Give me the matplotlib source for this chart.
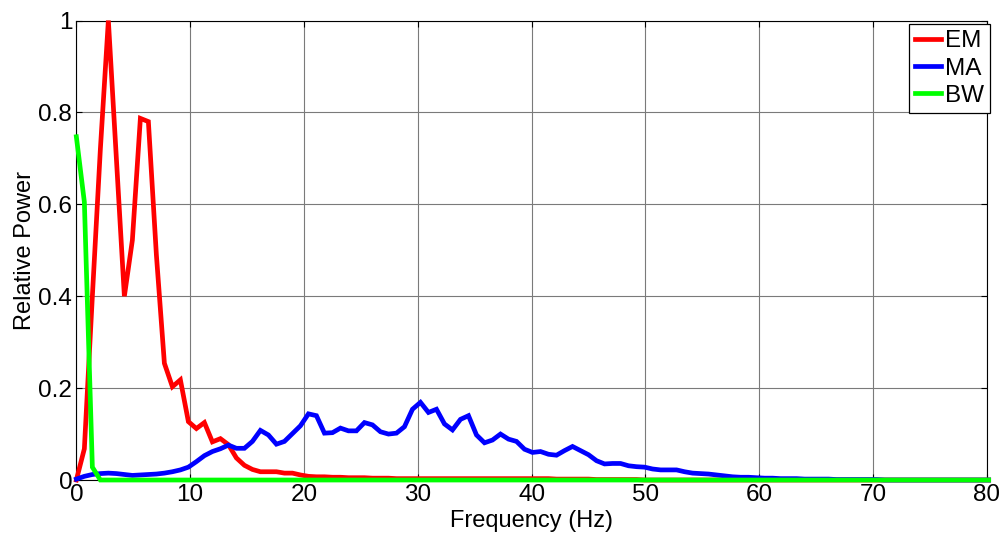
import matplotlib
matplotlib.use("Agg")
import matplotlib.pyplot as plt
import numpy as np

# frequency bins: 360 Hz sampling, 512-point FFT
fs = 360.0
nfft = 512

# relative power spectra of the three noise records
em = [0.0, 0.068, 0.40, 0.72, 1.0, 0.70, 0.40, 0.522, 0.787, 0.78,
      0.49, 0.254, 0.203, 0.218, 0.127, 0.112, 0.125, 0.083, 0.09, 0.077,
      0.048, 0.032, 0.023, 0.018, 0.018, 0.018, 0.015, 0.015, 0.011, 0.008,
      0.007, 0.007, 0.006, 0.006, 0.005, 0.005, 0.005, 0.004, 0.004, 0.004,
      0.003, 0.003, 0.003, 0.003, 0.003, 0.003, 0.003, 0.003, 0.003, 0.003,
      0.003, 0.003, 0.003, 0.003, 0.003, 0.003, 0.003, 0.003, 0.003, 0.003,
      0.002, 0.002, 0.002, 0.002, 0.002, 0.001, 0.001, 0.001, 0.001, 0.001,
      0.001] + [0.0] * 44

ma = [0.002, 0.008, 0.012, 0.014, 0.015, 0.014, 0.012, 0.010, 0.011, 0.012,
      0.013, 0.015, 0.018, 0.022, 0.028, 0.040, 0.053, 0.062, 0.068, 0.076,
      0.069, 0.069, 0.084, 0.108, 0.098, 0.078, 0.084, 0.101, 0.118, 0.144,
      0.140, 0.102, 0.103, 0.113, 0.107, 0.107, 0.125, 0.120, 0.105, 0.100,
      0.102, 0.116, 0.154, 0.169, 0.147, 0.154, 0.122, 0.109, 0.132, 0.140,
      0.098, 0.081, 0.087, 0.100, 0.089, 0.084, 0.067, 0.060, 0.062, 0.056,
      0.054, 0.064, 0.073, 0.064, 0.055, 0.042, 0.035, 0.036, 0.036, 0.031,
      0.029, 0.028, 0.024, 0.022, 0.022, 0.022, 0.018, 0.015, 0.014, 0.013,
      0.011, 0.009, 0.007, 0.006, 0.006, 0.005, 0.004, 0.004, 0.003, 0.003,
      0.003, 0.002, 0.002, 0.002, 0.002, 0.001, 0.001, 0.001, 0.001, 0.001,
      0.001] + [0.0] * 14

bw = [0.747, 0.605, 0.028] + [0.0] * 112

series = [("EM", em, "#ff0000"), ("MA", ma, "#0000ff"), ("BW", bw, "#00ff00")]

xticks = [0, 10, 20, 30, 40, 50, 60, 70, 80]
yticks = [0, 0.2, 0.4, 0.6, 0.8, 1.0]


def main():
    plt.rcParams['font.family'] = ['Liberation Sans', 'DejaVu Sans']
    fig = plt.figure(figsize=(10.06, 5.34), dpi=100)
    ax = fig.add_axes([0.0759, 0.1011, 0.9051, 0.8605])

    freq = np.arange(len(em)) * fs / nfft
    for name, vals, col in series:
        ax.plot(freq, vals, color=col, lw=3.4, label=name, clip_on=False,
                solid_joinstyle='miter', zorder=3)

    ax.set_xlim(0, 80)
    ax.set_ylim(0, 1)
    ax.set_xticks(xticks)
    ax.set_yticks(yticks)
    ax.set_yticklabels(["%g" % t for t in yticks])
    ax.tick_params(direction='in', length=4, width=0.8, labelsize=17.5,
                   top=True, right=True, pad=3)
    ax.grid(True, color='#7a7a7a', lw=0.8)
    ax.set_axisbelow(True)
    for sp in ax.spines.values():
        sp.set_linewidth(0.8)

    ax.set_xlabel("Frequency (Hz)", fontsize=17, labelpad=3)
    ax.set_ylabel("Relative Power", fontsize=17, labelpad=1.5)

    leg = ax.legend(loc='upper right', bbox_to_anchor=(1.003, 0.992),
                    borderaxespad=0, fontsize=17.5, handlelength=1.05,
                    handletextpad=0.15, labelspacing=0.22, borderpad=0.25,
                    fancybox=False, framealpha=1, edgecolor='black')
    leg.get_frame().set_linewidth(0.9)

    fig.savefig('out.png', dpi=100)
    plt.close(fig)


if __name__ == "__main__":
    main()
